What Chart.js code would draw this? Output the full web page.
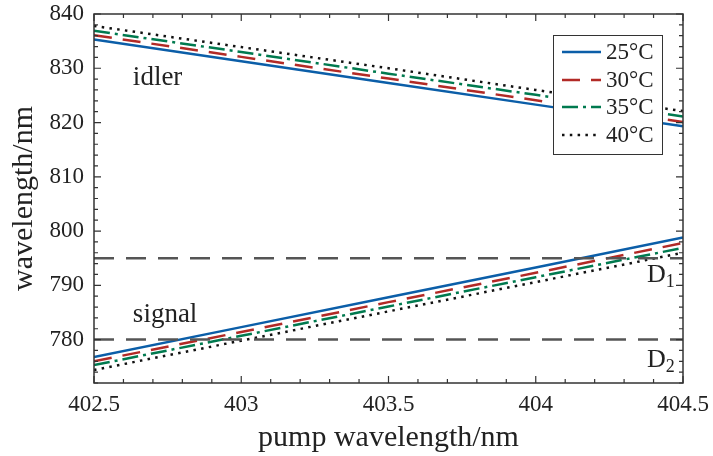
<!DOCTYPE html>
<html>
<head>
<meta charset="utf-8">
<script src="https://cdn.jsdelivr.net/npm/chart.js@4.4.0/dist/chart.umd.min.js"></script>
<style>
  html, body { margin: 0; padding: 0; background: #fff; }
  #wrap { width: 713px; height: 456px; }
</style>
</head>
<body>
<div id="wrap"><canvas id="tuning"></canvas></div>
<script>
// pump wavelength (nm)
const pump = [402.5, 403, 403.5, 404, 404.5];

// idler branch, one array per crystal temperature
const idler25 = [835.3, 831.3, 827.3, 823.3, 819.3];
const idler30 = [836.1, 832.1, 828.1, 824.1, 820.1];
const idler35 = [836.9, 833.0, 829.0, 825.1, 821.1];
const idler40 = [837.8, 833.9, 830.0, 826.0, 822.1];

// signal branch
const signal25 = [776.8, 782.3, 787.8, 793.3, 798.8];
const signal30 = [776.0, 781.4, 786.9, 792.3, 797.8];
const signal35 = [775.3, 780.7, 786.1, 791.5, 796.9];
const signal40 = [774.4, 779.8, 785.2, 790.6, 796.0];

// detector wavelengths (horizontal dashed lines)
const lineD1 = 795;
const lineD2 = 780;

const tempLabels = ["25°C", "30°C", "35°C", "40°C"];
const xTicks = [402.5, 403, 403.5, 404, 404.5];
const yTicks = [780, 790, 800, 810, 820, 830, 840];

const FONT = "'Liberation Serif', 'Times New Roman', serif";
const colors = ["#0b5ea8", "#b22a26", "#007a4f", "#111111"];
const dashes = [[], [18, 11], [16, 5, 3, 5], [2.5, 5.3]];

function pts(ys) {
  return pump.map((x, i) => ({ x: x, y: ys[i] }));
}

function serie(ys, k, label) {
  return {
    label: label,
    data: pts(ys),
    borderColor: colors[k],
    borderWidth: 2.5,
    borderDash: dashes[k],
    borderCapStyle: "butt",
    pointRadius: 0,
    tension: 0,
    fill: false,
  };
}

function hline(y) {
  return {
    label: "",
    data: [{ x: pump[0], y: y }, { x: pump[pump.length - 1], y: y }],
    borderColor: "#555555",
    borderWidth: 2.5,
    borderDash: [20, 12],
    borderCapStyle: "butt",
    pointRadius: 0,
    fill: false,
  };
}

const idler = [idler25, idler30, idler35, idler40];
const signal = [signal25, signal30, signal35, signal40];

const datasets = [
  hline(lineD1),
  hline(lineD2),
];
// temperatures drawn coolest on top
for (let k = 3; k >= 0; k--) {
  datasets.push(serie(idler[k], k, tempLabels[k]));
  datasets.push(serie(signal[k], k, tempLabels[k]));
}

// ticks inside the box, labels, legend
const deco = {
  id: "deco",
  afterDraw(chart) {
    const ctx = chart.ctx;
    const a = chart.chartArea;
    const xs = chart.scales.x;
    const ys = chart.scales.y;
    ctx.save();

    // box
    ctx.strokeStyle = "#333";
    ctx.lineWidth = 1.5;
    ctx.strokeRect(a.left, a.top, a.right - a.left, a.bottom - a.top);

    // x ticks (major 0.5, minor 0.1)
    ctx.lineWidth = 1.2;
    for (let k = 0; k <= 20; k++) {
      const v = 402.5 + k * 0.1;
      const px = xs.getPixelForValue(v);
      const len = k % 5 === 0 ? 7 : 4;
      ctx.beginPath();
      ctx.moveTo(px, a.bottom); ctx.lineTo(px, a.bottom - len);
      ctx.moveTo(px, a.top); ctx.lineTo(px, a.top + len);
      ctx.stroke();
    }
    // y ticks (major 10, minor 2)
    for (let v = 772; v <= 840; v += 2) {
      const py = ys.getPixelForValue(v);
      const len = v % 10 === 0 ? 7 : 4;
      ctx.beginPath();
      ctx.moveTo(a.left, py); ctx.lineTo(a.left + len, py);
      ctx.moveTo(a.right, py); ctx.lineTo(a.right - len, py);
      ctx.stroke();
    }

    // branch labels
    ctx.fillStyle = "#222";
    ctx.textBaseline = "alphabetic";
    ctx.textAlign = "left";
    ctx.font = "27px " + FONT;
    ctx.fillText("idler", xs.getPixelForValue(402.632), ys.getPixelForValue(826.9));
    ctx.fillText("signal", xs.getPixelForValue(402.632), ys.getPixelForValue(783.2));

    // detector labels with subscript
    const dlab = (sub, yv) => {
      const x0 = xs.getPixelForValue(404.378);
      const y0 = ys.getPixelForValue(yv);
      ctx.font = "26px " + FONT;
      ctx.fillText("D", x0, y0);
      const w = ctx.measureText("D").width;
      ctx.font = "18px " + FONT;
      ctx.fillText(sub, x0 + w, y0 + 5);
    };
    dlab("1", 790.6);
    dlab("2", 774.9);

    // legend box
    const lx = 553, ly = 35, lw = 109, lh = 119;
    ctx.fillStyle = "#fff";
    ctx.fillRect(lx, ly, lw, lh);
    ctx.strokeStyle = "#333";
    ctx.lineWidth = 1;
    ctx.strokeRect(lx + 0.5, ly + 0.5, lw, lh);
    const rows = [52, 80, 107, 135];
    for (let k = 0; k < 4; k++) {
      ctx.strokeStyle = colors[k];
      ctx.lineWidth = 2.5;
      ctx.lineCap = "butt";
      ctx.setLineDash(dashes[k]);
      ctx.beginPath();
      ctx.moveTo(562, rows[k]);
      ctx.lineTo(601, rows[k]);
      ctx.stroke();
      ctx.setLineDash([]);
      ctx.fillStyle = "#222";
      ctx.font = "23px " + FONT;
      ctx.textBaseline = "middle";
      ctx.fillText(tempLabels[k], 606, rows[k] + 1);
    }
    ctx.restore();
  },
};

new Chart(document.getElementById("tuning"), {
  type: "line",
  data: { datasets: datasets },
  options: {
    responsive: true,
    maintainAspectRatio: false,
    animation: false,
    layout: { padding: { left: 0, top: 14, right: 30, bottom: 0 } },
    plugins: {
      legend: { display: false },
      tooltip: { enabled: false },
    },
    scales: {
      x: {
        type: "linear",
        min: 402.5,
        max: 404.5,
        afterBuildTicks: (s) => { s.ticks = xTicks.map((v) => ({ value: v })); },
        afterFit: (s) => {
          s.height = 73;
          s.paddingLeft = 0;
          s.paddingRight = 0;
        },
        grid: { display: false, drawTicks: false },
        border: { display: false },
        ticks: {
          padding: 8,
          color: "#222",
          font: { family: FONT, size: 23 },
          maxRotation: 0,
          callback: (v) => String(Math.round(v * 10) / 10),
        },
        title: {
          display: true,
          text: "pump wavelength/nm",
          color: "#222",
          font: { family: FONT, size: 30 },
          padding: { top: 0, bottom: 0 },
        },
      },
      y: {
        type: "linear",
        min: 772,
        max: 840,
        afterBuildTicks: (s) => { s.ticks = yTicks.map((v) => ({ value: v })); },
        afterFit: (s) => {
          s.width = 94;
          s.paddingTop = 0;
          s.paddingBottom = 0;
        },
        grid: { display: false, drawTicks: false },
        border: { display: false },
        ticks: {
          padding: 10,
          color: "#222",
          font: { family: FONT, size: 23 },
        },
        title: {
          display: true,
          text: "wavelength/nm",
          color: "#222",
          font: { family: FONT, size: 30 },
          padding: { top: 6, bottom: 0 },
        },
      },
    },
  },
  plugins: [deco],
});
</script>
</body>
</html>
